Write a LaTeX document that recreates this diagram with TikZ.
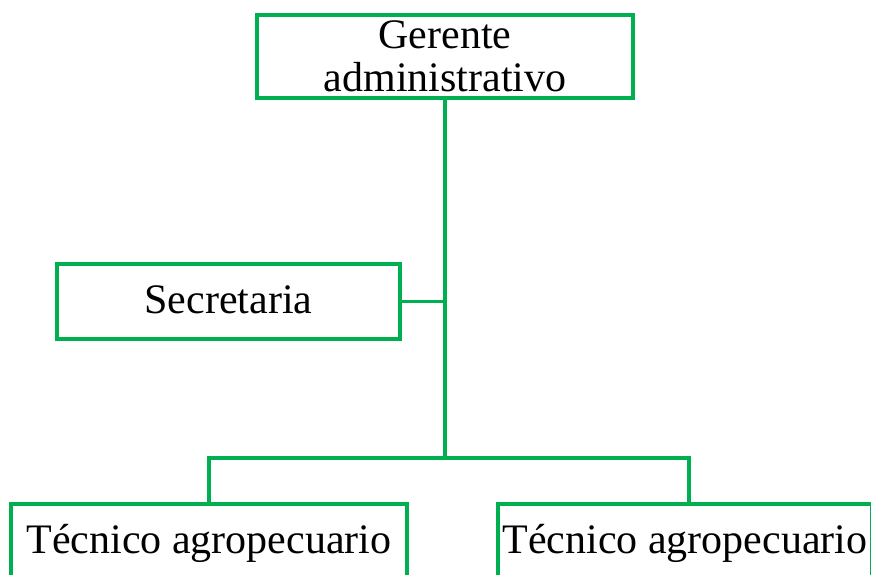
\documentclass[tikz,border=0pt]{standalone}
\usepackage{fontspec}
\setmainfont{Liberation Serif}
\definecolor{orgverde}{RGB}{0,176,80}
\begin{document}
\begin{tikzpicture}[x=1pt,y=-1pt,
  orgbox/.style={draw=orgverde, line width=3.5pt, inner sep=0pt,
    font=\fontsize{42}{43}\selectfont},
  onebox/.style={orgbox, minimum height=75pt, text height=30pt, text depth=7pt},
  orgline/.style={draw=orgverde, line width=3.5pt}]
  \useasboundingbox (0,0) rectangle (871,574);
  \clip (0,0) rectangle (871,574);

  \node[orgbox, minimum width=376pt, minimum height=83pt, align=center] (gerente) at (445,56.5) {Gerente\\administrativo};
  \node[onebox, minimum width=343pt] (secre) at (228.5,301.5) {Secretaria};
  \node[onebox, minimum width=396pt] (tec1) at (209,541.5) {Técnico agropecuario};
  \node[onebox, minimum width=374pt] (tec2) at (685,541.5) {Técnico agropecuario};

  \coordinate (junction) at (445,458);
  \coordinate (drop2) at ([xshift=4pt]tec2.north);

  \draw[orgline] (gerente.south) -- (junction);
  \draw[orgline] (secre.east) -- (secre.east -| junction);
  \draw[orgline] (tec1.north) |- (junction) -| (drop2);
\end{tikzpicture}
\end{document}
